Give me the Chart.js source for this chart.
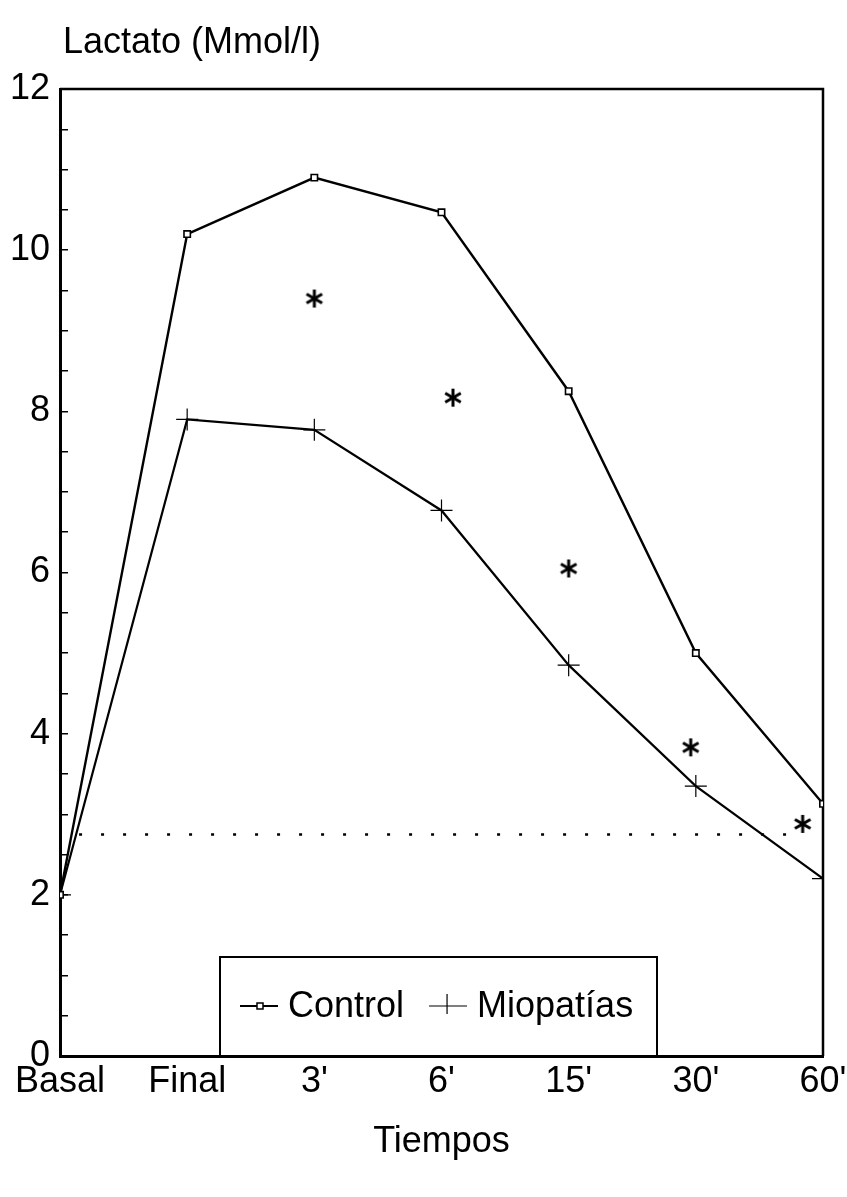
<!DOCTYPE html>
<html>
<head>
<meta charset="utf-8">
<script src="https://cdn.jsdelivr.net/npm/chart.js@4/dist/chart.umd.min.js"></script>
<style>
  html, body { margin: 0; padding: 0; background: #fff; }
  #wrap { width: 847px; height: 1197px; }
</style>
</head>
<body>
<div id="wrap"><canvas id="lactatoChart" width="847" height="1197"></canvas></div>
<script>
// data
const timeLabels = ['Basal', 'Final', "3'", "6'", "15'", "30'", "60'"];
const controlValues = [2.0, 10.2, 10.9, 10.47, 8.25, 5.0, 3.13];
const miopatiasValues = [2.0, 7.9, 7.77, 6.77, 4.85, 3.35, 2.2];
// significance marks (x as position along the time axis)
const starX = [2.0, 3.09, 4.0, 4.96, 5.84];
const starY = [9.4, 8.17, 6.05, 3.83, 2.88];
// dotted reference level
const refLevel = [2.75, 2.75];
const refX = [0.15, 5.85];

const FONT = '"Liberation Sans", Arial, Helvetica, sans-serif';

function makeAsterisk(size, lw) {
    const c = document.createElement('canvas');
    c.width = size;
    c.height = size;
    const g = c.getContext('2d');
    g.strokeStyle = '#000';
    g.lineWidth = lw;
    const r = size / 2 - 1;
    [90, 30, -30].forEach(a => {
        const rad = a * Math.PI / 180;
        g.beginPath();
        g.moveTo(size / 2 - r * Math.cos(rad), size / 2 - r * Math.sin(rad));
        g.lineTo(size / 2 + r * Math.cos(rad), size / 2 + r * Math.sin(rad));
        g.stroke();
    });
    return c;
}

const toPoints = (xs, ys) => ys.map((y, i) => ({ x: xs ? xs[i] : i, y: y }));

// frame, title and legend box
const extras = {
    id: 'extras',
    beforeDatasetsDraw(chart) {
        const ctx = chart.ctx;
        const a = chart.chartArea;
        ctx.save();
        ctx.strokeStyle = '#000';
        ctx.lineWidth = 2.5;
        ctx.beginPath();
        ctx.moveTo(a.left, a.top);
        ctx.lineTo(a.right, a.top);
        ctx.lineTo(a.right, a.bottom);
        ctx.stroke();
        ctx.restore();
    },
    afterDraw(chart) {
        const ctx = chart.ctx;
        const a = chart.chartArea;
        ctx.save();
        ctx.fillStyle = '#000';
        ctx.font = '36px ' + FONT;
        ctx.textBaseline = 'middle';
        ctx.fillText('Lactato (Mmol/l)', 63, 43);

        // legend box
        const left = 220, top = 957, right = 657;
        ctx.fillStyle = '#fff';
        ctx.fillRect(left, top, right - left, a.bottom - top);
        ctx.strokeStyle = '#000';
        ctx.lineWidth = 2;
        ctx.strokeRect(left, top, right - left, a.bottom - top);

        const y = 1006;
        let x = 240;
        ctx.fillStyle = '#000';
        ctx.lineWidth = 1.8;
        // Control item
        ctx.beginPath();
        ctx.moveTo(x, y); ctx.lineTo(x + 38, y);
        ctx.stroke();
        ctx.lineWidth = 1.5;
        ctx.fillStyle = '#fff';
        ctx.fillRect(x + 17, y - 3, 6, 6);
        ctx.strokeRect(x + 17, y - 3, 6, 6);
        ctx.fillStyle = '#000';
        x = 288;
        ctx.fillText('Control', x, y + 1);
        x += ctx.measureText('Control').width + 25;
        // Miopatias item
        ctx.lineWidth = 1.2;
        ctx.beginPath();
        ctx.moveTo(x, y); ctx.lineTo(x + 38, y);
        ctx.moveTo(x + 18, y - 12); ctx.lineTo(x + 18, y + 8);
        ctx.stroke();
        x += 48;
        ctx.fillText('Miopatías', x, y + 1);
        ctx.restore();
    }
};

const chart = new Chart(document.getElementById('lactatoChart'), {
    type: 'line',
    data: {
        datasets: [{
            label: 'Control',
            data: toPoints(null, controlValues),
            borderColor: '#000',
            borderWidth: 2.4,
            pointStyle: 'rect',
            pointRadius: 4.5,
            pointBorderWidth: 1.6,
            pointBackgroundColor: '#fff',
            pointBorderColor: '#000',
            tension: 0
        }, {
            label: 'Miopatías',
            data: toPoints(null, miopatiasValues),
            borderColor: '#000',
            borderWidth: 2.2,
            pointStyle: 'cross',
            pointRadius: 11,
            pointBorderWidth: 1.2,
            pointBorderColor: '#000',
            tension: 0
        }, {
            label: 'ref',
            data: toPoints(refX, refLevel),
            borderColor: '#000',
            borderWidth: 2.5,
            borderDash: [3, 19],
            pointRadius: 0
        }, {
            label: 'sig',
            data: toPoints(starX, starY),
            showLine: false,
            pointStyle: makeAsterisk(20, 3),
            pointRadius: 10
        }]
    },
    options: {
        responsive: false,
        animation: false,
        layout: { padding: { top: 89, right: 24, left: 0, bottom: 0 } },
        plugins: {
            legend: { display: false },
            tooltip: { enabled: false }
        },
        scales: {
            x: {
                type: 'linear',
                min: 0,
                max: 6,
                afterFit: s => {
                    s.height = 141;
                    s.paddingLeft = 0;
                    s.paddingRight = 0;
                },
                border: { display: true, color: '#000', width: 3 },
                grid: { display: false, drawTicks: false },
                ticks: {
                    stepSize: 1,
                    autoSkip: false,
                    maxRotation: 0,
                    padding: 4,
                    color: '#000',
                    font: { family: FONT, size: 36 },
                    callback: v => timeLabels[v]
                },
                title: {
                    display: true,
                    text: 'Tiempos',
                    color: '#000',
                    font: { family: FONT, size: 36 },
                    padding: { top: 0, bottom: 33 }
                }
            },
            y: {
                min: 0,
                max: 12,
                afterFit: s => { s.width = 60; },
                border: { display: true, color: '#000', width: 3 },
                grid: {
                    drawOnChartArea: false,
                    drawTicks: true,
                    tickLength: -8,
                    color: '#000',
                    lineWidth: 1.5
                },
                ticks: {
                    stepSize: 0.5,
                    autoSkip: false,
                    padding: 18,
                    color: '#000',
                    font: { family: FONT, size: 36 },
                    callback: v => (v % 2 === 0 ? v : '')
                }
            }
        }
    },
    plugins: [extras]
});
</script>
</body>
</html>
